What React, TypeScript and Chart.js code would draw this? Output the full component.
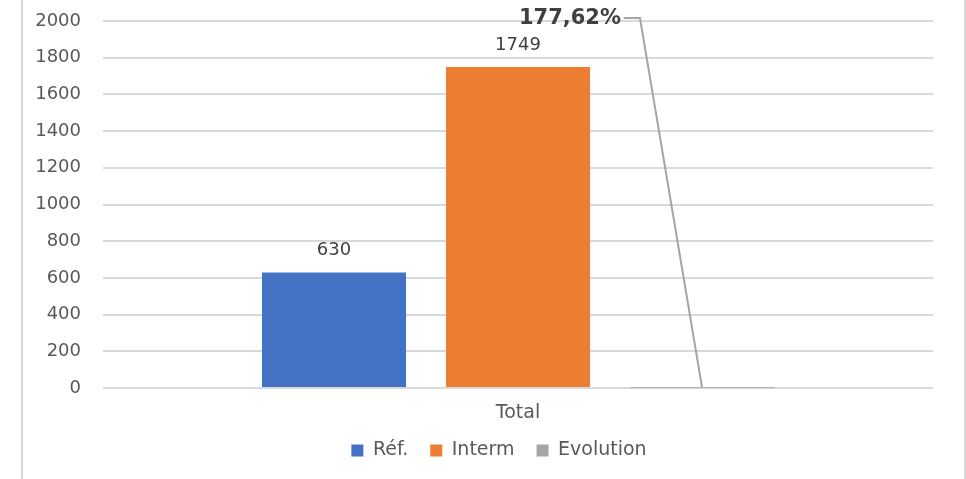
import React, { useEffect, useRef } from "react";
import { Chart, registerables } from "chart.js";

Chart.register(...registerables);

const categories = ["Total"];
const refValues = [630];
const intermValues = [1749];
const evolutionValues = [1.7762];
const seriesNames = ["Réf.", "Interm", "Evolution"];
const seriesColors = ["#4472C4", "#ED7D31", "#A5A5A5"];
const yTicks = { min: 0, max: 2000, step: 200 };

const FONT = "'DejaVu Sans', sans-serif";

const fmtPct = (v: number) => (v * 100).toFixed(2).replace(".", ",") + "%";

const labelPlugin = {
  id: "labelsAndFrame",
  afterLayout(chart: any) {
    if (chart.legend) {
      chart.legend.left += 21;
      chart.legend.right += 21;
    }
  },
  beforeDraw(chart: any) {
    const ctx = chart.ctx;
    ctx.save();
    ctx.strokeStyle = "#d9d9d9";
    ctx.lineWidth = 2;
    ctx.beginPath();
    ctx.moveTo(22, 0);
    ctx.lineTo(22, chart.height);
    ctx.moveTo(965, 0);
    ctx.lineTo(965, chart.height);
    ctx.stroke();
    ctx.restore();
  },
  afterDatasetsDraw(chart: any) {
    const ctx = chart.ctx;
    ctx.save();
    ctx.textAlign = "center";
    ctx.textBaseline = "middle";
    ctx.fillStyle = "#404040";
    ctx.font = "18px " + FONT;
    [0, 1].forEach((di) => {
      const meta = chart.getDatasetMeta(di);
      meta.data.forEach((bar: any, i: number) => {
        const v = chart.data.datasets[di].data[i];
        ctx.fillText(String(v), bar.x, bar.y - 22);
      });
    });
    const meta = chart.getDatasetMeta(2);
    meta.data.forEach((bar: any, i: number) => {
      const v = chart.data.datasets[2].data[i];
      const ly = chart.chartArea.top - 3;
      ctx.strokeStyle = "#a5a5a5";
      ctx.lineWidth = 2;
      ctx.beginPath();
      ctx.moveTo(bar.x - 78, ly);
      ctx.lineTo(bar.x - 62, ly);
      ctx.lineTo(bar.x, bar.base);
      ctx.stroke();
      ctx.font = "bold 21px " + FONT;
      ctx.textAlign = "right";
      ctx.fillStyle = "#404040";
      ctx.fillText(fmtPct(v), bar.x - 81, ly + 1);
    });
    ctx.restore();
  },
};

export default function App() {
  const ref = useRef<HTMLCanvasElement>(null);
  useEffect(() => {
    if (!ref.current) return;
    const chart = new Chart(ref.current, {
      type: "bar",
      data: {
        labels: categories,
        datasets: [
          { label: seriesNames[0], data: refValues, backgroundColor: seriesColors[0] },
          { label: seriesNames[1], data: intermValues, backgroundColor: seriesColors[1] },
          { label: seriesNames[2], data: evolutionValues, backgroundColor: seriesColors[2] },
        ],
      },
      options: {
        animation: false,
        responsive: false,
        datasets: { bar: { categoryPercentage: 0.665, barPercentage: 0.783 } },
        layout: { padding: { left: 23, right: 33, top: 21, bottom: 9 } },
        plugins: {
          tooltip: { enabled: false },
          legend: {
            position: "bottom",
            labels: {
              boxWidth: 12,
              boxHeight: 12,
              padding: 22,
              color: "#595959",
              font: { family: FONT, size: 19 },
            },
          },
        },
        scales: {
          x: {
            grid: { display: false, drawTicks: false },
            border: { display: false },
            ticks: { color: "#595959", font: { family: FONT, size: 19 }, padding: 14 },
            afterFit: (s: any) => { s.height = 31; },
          },
          y: {
            min: yTicks.min,
            max: yTicks.max,
            grid: { color: "#d9d9d9", lineWidth: 2, drawTicks: false },
            border: { display: false },
            ticks: {
              stepSize: yTicks.step,
              color: "#595959",
              font: { family: FONT, size: 18 },
              padding: 22,
              callback: (v: any) => String(v),
            },
            afterFit: (s: any) => {
              s.width = 80;
              s.paddingTop = 0;
              s.paddingBottom = 0;
            },
          },
        },
      },
      plugins: [labelPlugin],
    });
    return () => chart.destroy();
  }, []);
  return (
    <div style={{ position: "fixed", left: 0, top: 0, width: 966, height: 479, background: "#fff" }}>
      <canvas ref={ref} width={966} height={479} style={{ width: 966, height: 479, display: "block" }} />
    </div>
  );
}
